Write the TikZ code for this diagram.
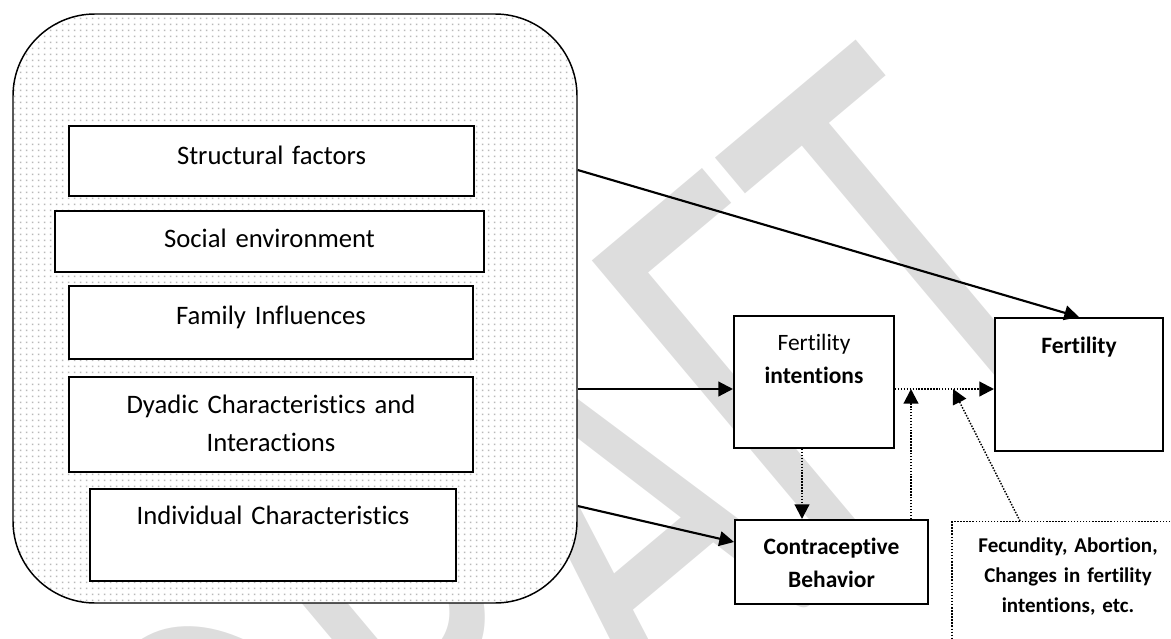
\documentclass[tikz,border=0pt]{standalone}
\usepackage{fontspec}
\setmainfont{Carlito}[RawFeature={-liga;-clig;-calt;-dlig}]
\usetikzlibrary{arrows.meta,patterns.meta}

\definecolor{wmgray}{RGB}{221,221,221}
\definecolor{dotgray}{RGB}{185,185,185}

\tikzdeclarepattern{
  name=grpdots,
  type=colored,
  bottom left={(0pt,0pt)},
  top right={(4.5pt,4.5pt)},
  tile size={(4.5pt,4.5pt)},
  code={\fill[dotgray] (1.6pt,1.6pt) rectangle (2.9pt,2.9pt);}
}

\tikzset{
  box/.style={draw, fill=white, line width=1.5pt, inner sep=0pt, anchor=north, align=center},
  lbox/.style={box, font=\fontsize{20pt}{28.5pt}\selectfont},
  rbox/.style={box, font=\fontsize{17.6pt}{24.75pt}\selectfont},
  nbox/.style={box, line width=1pt, dash pattern=on 1.1pt off 1.2pt, font=\bfseries\fontsize{15.75pt}{22.5pt}\selectfont},
  grpbox/.style={draw, line width=1.1pt, rounded corners=61.5pt, inner sep=0pt,
    minimum width=423pt, minimum height=441.75pt, preaction={fill=white}, pattern=grpdots},
  wmark/.style={text=wmgray, inner sep=0pt, anchor=base, rotate=40, yscale=1.59,
    font=\fontsize{297pt}{297pt}\selectfont},
  conn/.style={line width=1.6pt, -{Triangle[length=11pt,width=11pt]}},
  dconn/.style={conn, dash pattern=on 1.1pt off 1.1pt},
  fconn/.style={conn, line width=1.1pt, dash pattern=on 1.1pt off 1.1pt}
}

\begin{document}
\begin{tikzpicture}[x=0.75pt, y=-0.75pt]
\path[use as bounding box, clip] (0,0) rectangle (1171,639);
% watermark
\node[wmark] (wm) at (712,688) {DRAFT};

% influences
\node[grpbox] (grp) at (295,308.5) {};
\node[lbox, text width=303.75pt, text height=28.5pt, text depth=24pt] (sf) at (271.5,125) {Structural factors};
\node[lbox, text width=321.75pt, text height=27pt, text depth=18.75pt] (se) at (269.5,210) {Social environment};
\node[lbox, text width=303pt, text height=28.5pt, text depth=26.25pt] (fam) at (271,285) {Family Influences};
\node[lbox, text width=303pt, text height=27pt, text depth=44.25pt] (dy) at (271,376) {Dyadic Characteristics and\\Interactions};
\node[lbox, text width=274.5pt, text height=26.25pt, text depth=42.75pt] (ind) at (273,488) {Individual Characteristics};

% outcomes
\node[rbox, text width=120pt, text height=25.5pt, text depth=73.5pt] (fi) at (814,315) {Fertility\\\textbf{intentions}};
\node[rbox, text width=126pt, text height=26.25pt, text depth=73.5pt] (fer) at (1079,317) {\textbf{Fertility}};
\node[rbox, text width=144.75pt, text height=25.5pt, text depth=37.5pt, font=\bfseries\fontsize{17.6pt}{24.75pt}\selectfont] (cb) at (831.5,519) {Contraceptive\\Behavior};
\node[nbox, text width=174pt, text height=23.25pt, text depth=96pt] (fec) at (1068,521) {Fecundity, Abortion,\\Changes in fertility\\intentions, etc.};

\coordinate (jc) at (911,389);
\coordinate (jf) at (953,389);

\draw[conn] (grp.east |- 0,170) -- (fer.north);
\draw[conn] (grp.east |- 0,389) -- (fi.west |- 0,389);
\draw[conn] (grp.east |- 0,506) -- (cb.west |- 0,542);
\draw[dconn] (fi.east |- 0,389) -- (fer.west |- 0,389);
\draw[dconn] (fi.south -| 802,0) -- (cb.north -| 802,0);
\draw[dconn] (cb.north -| jc) -- (jc);
\draw[fconn] (fec.north -| 1020,0) -- (jf);
%\draw[help lines] (0,0) grid[step=50] (1171,639);
\end{tikzpicture}
\end{document}
